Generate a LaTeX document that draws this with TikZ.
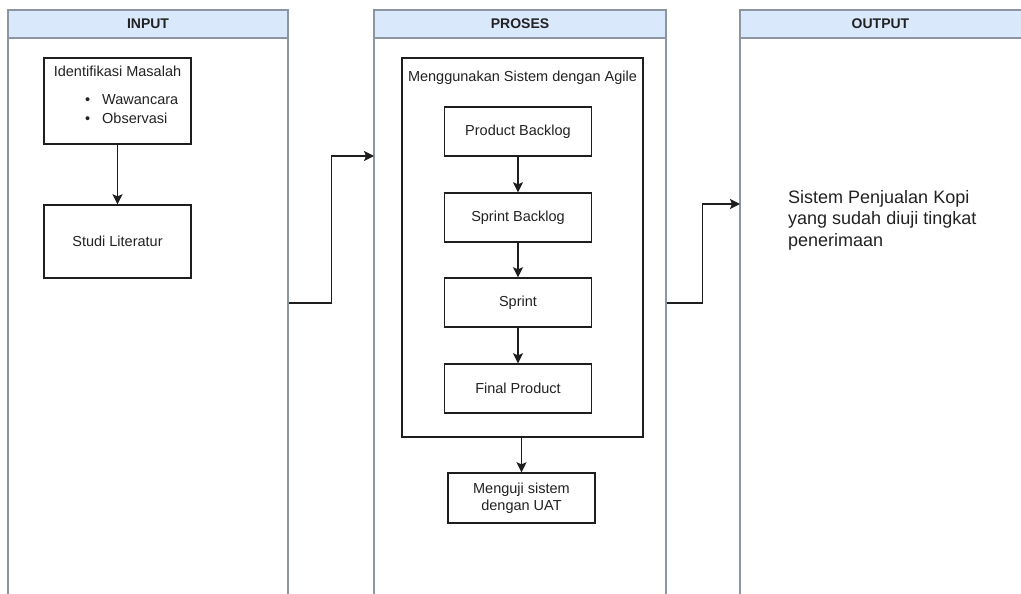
\documentclass[tikz,border=0pt]{standalone}
\usepackage{fontspec}
\setmainfont{Liberation Sans}
\usetikzlibrary{arrows.meta}
\definecolor{lanegray}{RGB}{140,150,160}
\definecolor{hdrblue}{RGB}{218,232,252}
\definecolor{txt}{RGB}{34,34,34}
\definecolor{boxline}{RGB}{30,30,30}
\tikzset{
  lane/.style={draw=lanegray, line width=1.2pt, fill=white, inner sep=0pt},
  hdr/.style={draw=lanegray, line width=1.2pt, fill=hdrblue, text=txt, inner sep=0pt, minimum height=28pt,
    font=\bfseries\fontsize{14}{16}\selectfont},
  box/.style={draw=boxline, line width=1.4pt, fill=white, text=txt, inner sep=0pt, align=center,
    font=\fontsize{14.5}{17.5}\selectfont},
  lbl/.style={text=txt, inner sep=0pt, font=\fontsize{14.5}{17.5}\selectfont},
  bigtxt/.style={text=txt, inner sep=0pt, align=left, font=\fontsize{18}{21.5}\selectfont},
  arr/.style={draw=boxline, line width=1.4pt, -{Stealth[length=10pt,width=10pt,inset=2pt]}},
}
\begin{document}
\begin{tikzpicture}[x=1pt,y=-1pt]
\useasboundingbox (0,0) rectangle (1021,594);
% lanes
\node[lane, minimum width=280pt, minimum height=586pt] (inlane) at (148,303) {};
\node[lane, minimum width=292pt, minimum height=586pt] (prlane) at (520,303) {};
\node[lane, minimum width=290pt, minimum height=586pt] (outlane) at (885,303) {};
\node[hdr, minimum width=280pt] (inhdr) at (148,24) {INPUT};
\node[hdr, minimum width=292pt] (prhdr) at (520,24) {PROSES};
\node[hdr, minimum width=290pt] (outhdr) at (885,24) {};
\node[text=txt, inner sep=0pt, font=\bfseries\fontsize{14}{16}\selectfont] (outtitle) at (880.5,24) {OUTPUT};
% INPUT lane
\node[box, minimum width=147pt, minimum height=86pt] (idm) at (117.5,101) {};
\node[lbl] (idmt) at (117.5,71) {Identifikasi Masalah};
\node[lbl, anchor=west] (b1) at (85,100) {\makebox[17pt][l]{\textbullet}Wawancara};
\node[lbl, anchor=west] (b2) at (85,118) {\makebox[17pt][l]{\textbullet}Observasi};
\node[box, minimum width=147pt, minimum height=73pt] (studi) at (117.5,241.5) {Studi Literatur};
\draw[arr] (idm) -- (studi);
% PROSES lane
\node[box, minimum width=241pt, minimum height=379pt] (agile) at (522.5,247.5) {};
\node[lbl] (agilet) at (522.5,78) {Menggunakan Sistem dengan Agile};
\node[box, minimum width=147pt, minimum height=49pt] (pb) at (518,131.5) {Product Backlog};
\node[box, minimum width=147pt, minimum height=49pt] (sb) at (518,217.5) {Sprint Backlog};
\node[box, minimum width=147pt, minimum height=49pt] (sp) at (518,302.5) {Sprint};
\node[box, minimum width=147pt, minimum height=49pt] (fp) at (518,388.5) {Final Product};
\node[box, minimum width=147pt, minimum height=50pt] (uat) at (521.5,498) {Menguji sistem\\dengan UAT};
\draw[arr] (pb) -- (sb);
\draw[arr] (sb) -- (sp);
\draw[arr] (sp) -- (fp);
\draw[arr] (uat.north |- agile.south) -- (uat.north);
% OUTPUT lane
\node[bigtxt, anchor=north west] (res) at (788,190) {Sistem Penjualan Kopi\\yang sudah diuji tingkat\\penerimaan};
% connectors between lanes
\coordinate (t1) at (374,156);
\coordinate (t2) at (740,204);
\draw[arr] (inlane.east) -- ++(43,0) |- (t1);
\draw[arr] (prlane.east) -- ++(36,0) |- (t2);
\end{tikzpicture}
\end{document}
